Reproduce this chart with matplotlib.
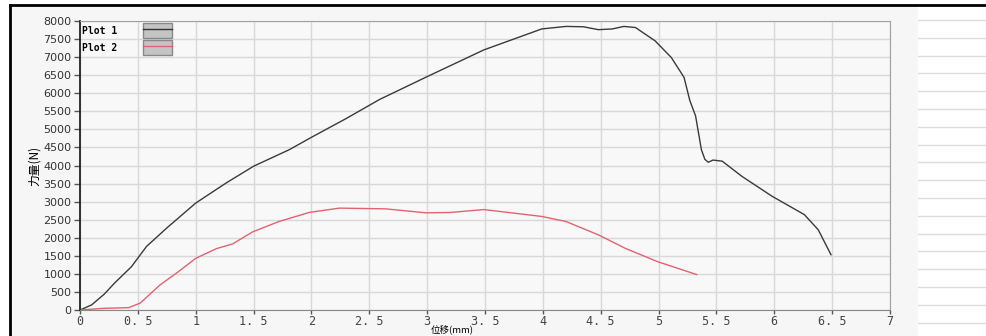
import numpy as np
import matplotlib.pyplot as plt
from matplotlib.lines import Line2D
from matplotlib.patches import Patch, Rectangle
from matplotlib.legend_handler import HandlerTuple

# displacement (mm) / force (N)
x1 = [0, 0.1, 0.21, 0.3, 0.445, 0.575, 0.75, 1.0, 1.265, 1.5, 1.81, 2.0, 2.3,
      2.59, 3.0, 3.49, 3.99, 4.2, 4.35, 4.48, 4.6, 4.7, 4.8, 4.97, 5.11, 5.22,
      5.27, 5.32, 5.37, 5.40, 5.43, 5.47, 5.55, 5.72, 5.98, 6.26, 6.38, 6.49]
y1 = [0, 140, 440, 750, 1200, 1760, 2270, 2960, 3520, 3980, 4440, 4780, 5300,
      5830, 6460, 7200, 7780, 7850, 7840, 7760, 7780, 7850, 7820, 7450, 6990, 6440,
      5800, 5370, 4440, 4170, 4090, 4150, 4120, 3700, 3150, 2640, 2220, 1530]

x2 = [0, 0.2, 0.42, 0.52, 0.69, 0.85, 1.0, 1.18, 1.32, 1.49, 1.72, 1.98, 2.24,
      2.64, 2.99, 3.2, 3.49, 3.99, 4.2, 4.48, 4.71, 4.99, 5.33]
y2 = [0, 45, 65, 190, 690, 1060, 1430, 1700, 1830, 2160, 2450, 2700, 2820,
      2800, 2690, 2700, 2780, 2590, 2450, 2080, 1710, 1340, 980]

xticks = np.arange(0, 7.01, 0.5)
yticks = np.arange(0, 8001, 500)
xlabels = ['0', '0. 5', '1', '1. 5', '2', '2. 5', '3', '3. 5', '4', '4. 5',
           '5', '5. 5', '6', '6. 5', '7']

fig = plt.figure(figsize=(9.86, 3.36), dpi=100)
fig.patch.set_facecolor('white')

# grey panel + black frame
fig.add_artist(Rectangle((10/986, 0), 908/986, 331/336, transform=fig.transFigure,
                         facecolor='#f6f6f6', edgecolor='none', zorder=-5))
fig.add_artist(Line2D([10/986, 1], [331/336, 331/336], transform=fig.transFigure,
                      color='black', lw=2))
fig.add_artist(Line2D([10/986, 10/986], [0, 331/336], transform=fig.transFigure,
                      color='black', lw=2))

# table lines on the right
side = fig.add_axes([918/986, 0, 68/986, 1])
side.axis('off')
side.set_ylim(0, 336)
side.set_xlim(0, 1)
for yy in np.arange(20, 336, 17.8):
    side.axhline(336 - yy, color='#dcdcdc', lw=1)

ax = fig.add_axes([80/986, 26/336, 810/986, 289/336])
ax.set_facecolor('#f8f8f8')
ax.plot(x1, y1, color='#3a3a3a', lw=1.0)
ax.plot(x2, y2, color='#e2636f', lw=1.0)

ax.set_xlim(0, 7)
ax.set_ylim(0, 8000)
ax.set_xticks(xticks)
ax.set_xticklabels(xlabels, family='DejaVu Sans Mono', fontsize=8.5, color='#444444')
ax.set_yticks(yticks)
ax.set_yticklabels([str(v) for v in yticks], family='DejaVu Sans', fontsize=8, color='#333333')
ax.grid(True, color='#d8d8d8', lw=1)
ax.set_axisbelow(True)
ax.tick_params(axis='y', length=4, width=1, color='#555555', pad=2)
ax.tick_params(axis='x', length=3, width=1, color='#555555', pad=0.5)

for s in ['top', 'right']:
    ax.spines[s].set_color('#a0a0a0')
ax.spines['left'].set_color('#222222')
ax.spines['left'].set_linewidth(1.3)
ax.spines['bottom'].set_color('#888888')

ax.set_ylabel('力量(N)', family=['Noto Sans CJK SC', 'DejaVu Sans'], fontsize=8.5, labelpad=2)
fig.text(452/986, 1.0/336, '位移(mm)', family=['Noto Sans CJK SC', 'DejaVu Sans'],
         fontsize=6.8, ha='center', va='bottom')

h1 = (Patch(facecolor='#c4c4c4', edgecolor='#888888'), Line2D([], [], color='#333333', lw=1))
h2 = (Patch(facecolor='#c4c4c4', edgecolor='#888888'), Line2D([], [], color='#e2636f', lw=1))
leg = ax.legend([h1, h2], ['Plot 1', 'Plot 2'], handler_map={tuple: HandlerTuple(ndivide=1)},
                loc='upper left', markerfirst=False, frameon=False,
                prop={'family': 'DejaVu Sans Mono', 'size': 7, 'weight': 'bold'},
                handlelength=3.0, handleheight=2.0, handletextpad=2.6,
                labelspacing=0.2, borderaxespad=0.15, borderpad=0.1)

fig.savefig('out.png', dpi=100)
